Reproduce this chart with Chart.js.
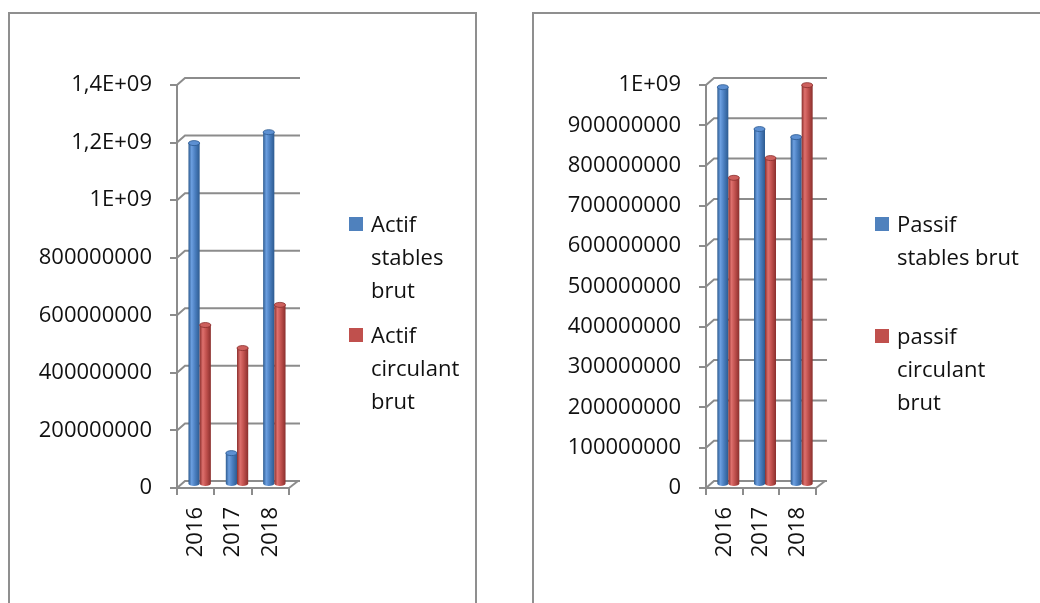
<!DOCTYPE html>
<html>
<head>
<meta charset="utf-8">
<title>Actif / Passif brut 2016-2018</title>
<script src="https://cdn.jsdelivr.net/npm/chart.js@4.4.1/dist/chart.umd.min.js"></script>
<style>
  html, body { margin: 0; padding: 0; background: #fff; width: 1040px; height: 603px; overflow: hidden; }
  body { position: relative; font-family: 'Open Sans', sans-serif; }
  .panel { position: absolute; top: 12px; height: 640px; border: 2px solid #8f8f8f; box-sizing: border-box; }
  #panelA { left: 8px; width: 469px; }
  #panelB { left: 532px; width: 560px; }
  .wrap { position: absolute; top: 0; width: 520px; height: 603px; }
  #wrapA { left: 0; }
  #wrapB { left: 520px; }
  .legend { position: absolute; font-size: 22px; line-height: 33px; color: #111; }
  .item { position: relative; padding-left: 22px; white-space: nowrap; }
  .swatch { position: absolute; left: 0; top: 10px; width: 14px; height: 14px; }
</style>
</head>
<body>
<div class="panel" id="panelA"></div>
<div class="panel" id="panelB"></div>
<div class="wrap" id="wrapA"><canvas id="chartA" width="520" height="603"></canvas></div>
<div class="wrap" id="wrapB"><canvas id="chartB" width="520" height="603"></canvas></div>
<div class="legend" id="legendA" style="left:349px; top:207px;"></div>
<div class="legend" id="legendB" style="left:875px; top:207px;"></div>

<script>
// Years on the category axis
const years = ['2016', '2017', '2018'];

// Actif (left chart)
const actifStablesBrut = [1.186e9, 1.09e8, 1.224e9];
const actifCirculantBrut = [5.54e8, 4.74e8, 6.24e8];
const actifTickLabels = ['0', '200000000', '400000000', '600000000', '800000000', '1E+09', '1,2E+09', '1,4E+09'];
const actifSeriesLines = [['Actif', 'stables', 'brut'], ['Actif', 'circulant', 'brut']];

// Passif (right chart)
const passifStablesBrut = [9.86e8, 8.82e8, 8.62e8];
const passifCirculantBrut = [7.61e8, 8.10e8, 9.91e8];
const passifTickLabels = ['0', '100000000', '200000000', '300000000', '400000000', '500000000',
  '600000000', '700000000', '800000000', '900000000', '1E+09'];
const passifSeriesLines = [['Passif', 'stables brut'], ['passif', 'circulant', 'brut']];

const AXIS = '#8c8c8c';
const TEXT = '#111';
const FONT = { family: "'Open Sans', sans-serif", size: 22 };

const BLUE = { edge: '#2d5b90', light: '#6c9fe0', main: '#4a7ebf', cap: '#5d90d2', swatch: '#4f81bd' };
const RED = { edge: '#8a2f2d', light: '#de706d', main: '#c0504d', cap: '#cd605d', swatch: '#c0504d' };

// Cylinder-shaped bar: shaded body, rounded base and an elliptical top cap
function drawCylinder(ctx, cx, top, base, w, c) {
  const l = cx - w / 2, r = cx + w / 2, ry = 2.5;
  const g = ctx.createLinearGradient(l, 0, r, 0);
  g.addColorStop(0, c.edge);
  g.addColorStop(0.28, c.light);
  g.addColorStop(0.6, c.main);
  g.addColorStop(1, c.edge);
  ctx.fillStyle = g;
  ctx.beginPath();
  ctx.moveTo(l, top);
  ctx.lineTo(l, base);
  ctx.ellipse(cx, base, w / 2, ry, 0, Math.PI, 0, true);
  ctx.lineTo(r, top);
  ctx.closePath();
  ctx.fill();
  ctx.beginPath();
  ctx.ellipse(cx, top, w / 2, ry, 0, 0, Math.PI * 2);
  ctx.fillStyle = c.cap;
  ctx.fill();
  ctx.lineWidth = 0.8;
  ctx.strokeStyle = c.edge;
  ctx.stroke();
}

// Back wall gridlines, floor edge and the bars placed halfway into the depth
const depthFrame = {
  id: 'depthFrame',
  beforeDatasetsDraw(chart) {
    const { ctx, chartArea: a, scales: { x, y } } = chart;
    const dx = 9, dy = 7;
    ctx.save();
    ctx.strokeStyle = AXIS;
    ctx.lineWidth = 2;
    y.ticks.forEach(t => {
      const py = y.getPixelForValue(t.value);
      ctx.beginPath();
      ctx.moveTo(a.left, py);
      ctx.lineTo(a.left + dx - 1, py - dy);
      ctx.lineTo(a.right + dx + 2, py - dy);
      ctx.stroke();
    });
    ctx.beginPath();
    ctx.moveTo(a.right, a.bottom);
    ctx.lineTo(a.right + dx, a.bottom - dy);
    ctx.stroke();

    ctx.translate(4, -3.5);
    chart.data.datasets.forEach((ds, di) => {
      const meta = chart.getDatasetMeta(di);
      meta.data.forEach(bar => {
        const p = bar.getProps(['x', 'y', 'base', 'width'], true);
        drawCylinder(ctx, p.x, p.y, p.base, p.width, ds.shade);
      });
    });
    ctx.restore();
    return false;
  }
};

function makeChart(canvasId, seriesA, seriesB, names, tickLabels, max, step, yWidth, padRight) {
  return new Chart(document.getElementById(canvasId), {
    type: 'bar',
    data: {
      labels: years,
      datasets: [
        { label: names[0].join(' '), data: seriesA, backgroundColor: BLUE.swatch, shade: BLUE },
        { label: names[1].join(' '), data: seriesB, backgroundColor: RED.swatch, shade: RED }
      ]
    },
    options: {
      responsive: false,
      animation: false,
      devicePixelRatio: 1,
      categoryPercentage: 0.6,
      barPercentage: 1.0,
      layout: { padding: { left: 10, top: 85, right: padRight, bottom: 0 } },
      plugins: { legend: { display: false }, tooltip: { enabled: false } },
      scales: {
        x: {
          ticks: { minRotation: 90, maxRotation: 90, font: FONT, color: TEXT, padding: 12 },
          grid: { drawOnChartArea: false, tickLength: 7, color: AXIS, lineWidth: 2, offset: true },
          border: { display: true, color: AXIS, width: 2 },
          afterFit(s) { s.height = 115; }
        },
        y: {
          min: 0, max: max,
          ticks: {
            stepSize: step, font: FONT, color: TEXT, padding: 18,
            callback: (v, i) => tickLabels[i]
          },
          grid: { drawOnChartArea: false, tickLength: 7, color: AXIS, lineWidth: 2 },
          border: { display: true, color: AXIS, width: 2 },
          afterFit(s) { s.width = yWidth; }
        }
      }
    },
    plugins: [depthFrame]
  });
}

function buildLegend(el, chart, lines, gaps) {
  chart.data.datasets.forEach((ds, i) => {
    const item = document.createElement('div');
    item.className = 'item';
    if (i > 0) item.style.marginTop = gaps + 'px';
    const sw = document.createElement('span');
    sw.className = 'swatch';
    sw.style.background = ds.backgroundColor;
    item.appendChild(sw);
    lines[i].forEach(t => {
      const d = document.createElement('div');
      d.textContent = t;
      item.appendChild(d);
    });
    el.appendChild(item);
  });
}

const chartA = makeChart('chartA', actifStablesBrut, actifCirculantBrut, actifSeriesLines,
  actifTickLabels, 1.4e9, 2e8, 167, 231);
const chartB = makeChart('chartB', passifStablesBrut, passifCirculantBrut, passifSeriesLines,
  passifTickLabels, 1e9, 1e8, 176, 224);

buildLegend(document.getElementById('legendA'), chartA, actifSeriesLines, 12);
buildLegend(document.getElementById('legendB'), chartB, passifSeriesLines, 46);
</script>
</body>
</html>
